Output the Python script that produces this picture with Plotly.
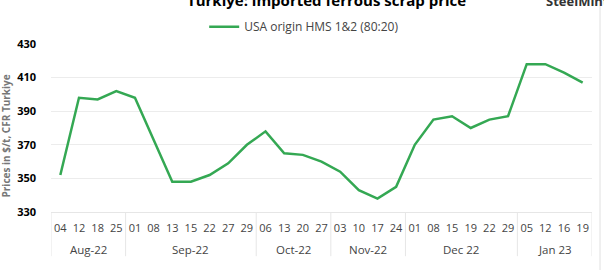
import plotly.graph_objects as go

months = ["Aug-22"] * 4 + ["Sep-22"] * 7 + ["Oct-22"] * 4 + ["Nov-22"] * 4 + ["Dec 22"] * 6 + ["Jan 23"] * 4
days = ["04", "12", "18", "25",
        "01", "08", "13", "15", "22", "27", "29",
        "06", "13", "20", "27",
        "03", "10", "17", "24",
        "01", "08", "15", "19", "22", "29",
        "05", "12", "16", "19"]
prices = [352, 398, 397, 402,
          398, 373, 348, 348, 352, 359, 370,
          378, 365, 364, 360,
          354, 343, 338, 345,
          370, 385, 387, 380, 385, 387,
          418, 418, 413, 407]
y_ticks = [330, 350, 370, 390, 410, 430]

FONT = "Open Sans"
n = len(prices)
idx = list(range(n))

# month groups (derived from the data)
groups = []
for i, m in enumerate(months):
    if not groups or groups[-1][0] != m:
        groups.append([m, i, i])
    else:
        groups[-1][2] = i

fig = go.Figure()
fig.add_trace(go.Scatter(
    x=idx, y=prices, mode="lines",
    name="USA origin HMS 1&2 (80:20)",
    line=dict(color="#34a853", width=2.5),
))

annotations = [
    dict(text="<b>Turkiye: imported ferrous scrap price</b>", xref="paper", yref="paper",
         x=0.509, y=1.188, xanchor="center", yanchor="bottom", showarrow=False,
         font=dict(size=15, color="black")),
    dict(text="<b>SteelMint</b>", xref="paper", yref="paper",
         x=0.911, y=1.188, xanchor="left", yanchor="bottom", showarrow=False,
         font=dict(size=13, color="#333")),
    dict(text="<b>Prices in $/t, CFR Turkiye</b>", xref="paper", yref="paper",
         x=-0.083, y=0.45, xanchor="center", yanchor="middle", textangle=-90,
         showarrow=False, font=dict(size=10, color="#777")),
]
shapes = [dict(type="line", xref="paper", yref="paper", x0=1.0148, x1=1.0148,
               y0=-0.4, y1=1.3, line=dict(color="#e0e0e0", width=1))]

for m, a, b in groups:
    annotations.append(dict(text=m, xref="x", yref="paper", x=(a + b) / 2, y=-0.223,
                            xanchor="center", yanchor="middle", showarrow=False,
                            font=dict(size=11.5, color="#444")))
    shapes.append(dict(type="line", xref="x", yref="paper", x0=a - 0.5, x1=a - 0.5,
                       y0=0, y1=-0.263, line=dict(color="#e6e6e6", width=1)))
shapes.append(dict(type="line", xref="x", yref="paper", x0=n - 0.5, x1=n - 0.5,
                   y0=0, y1=-0.263, line=dict(color="#e6e6e6", width=1)))

fig.update_layout(
    width=604, height=270,
    margin=dict(l=51, r=12, t=37, b=58),
    paper_bgcolor="white", plot_bgcolor="white",
    font=dict(family=FONT, color="#444", size=11),
    showlegend=True,
    legend=dict(orientation="h", x=0.468, xanchor="center", y=1.103, yanchor="middle",
                font=dict(size=12, color="#444"), bgcolor="rgba(0,0,0,0)"),
    xaxis=dict(
        range=[-0.5, n - 0.5], tickvals=idx, ticktext=days,
        showgrid=False, showline=True, linecolor="#e6e6e6", zeroline=False,
        tickfont=dict(size=11, color="#444"), ticks="", tickangle=0,
        ticklabelstandoff=6,
    ),
    yaxis=dict(
        range=[330, 430], tickvals=y_ticks, showgrid=True, gridcolor="#ececec",
        zeroline=False, showline=False,
        tickfont=dict(size=11, color="black", family=FONT, weight="bold"),
        ticklabelstandoff=14,
    ),
    annotations=annotations,
    shapes=shapes,
)

fig.write_html("out.html")
